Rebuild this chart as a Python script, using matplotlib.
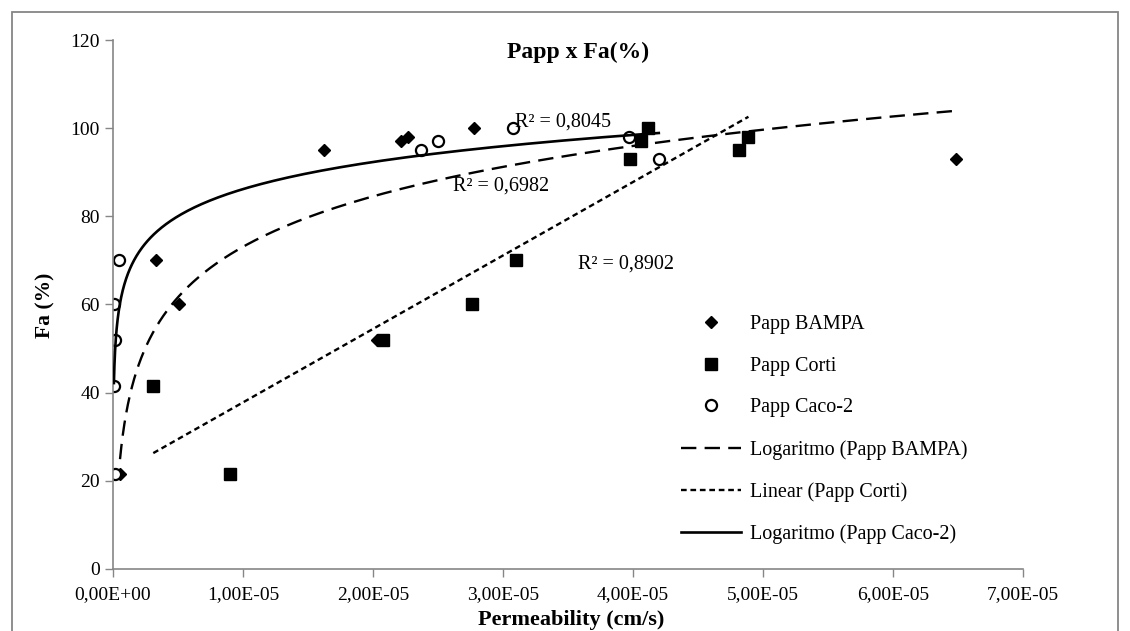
import numpy as np
import matplotlib
matplotlib.use("Agg")
import matplotlib.pyplot as plt
from matplotlib.patches import Rectangle
from matplotlib.ticker import FuncFormatter

# Papp (cm/s) vs Fa (%) for three permeability models
bampa_x = np.array([0.054, 0.31, 0.33, 0.51, 1.62, 2.03, 2.22, 2.27, 2.78, 6.49]) * 1e-5
bampa_y = np.array([21.5, 41.5, 70, 60, 95, 52, 97, 98, 100, 93])

corti_x = np.array([0.31, 0.90, 2.08, 2.76, 3.10, 3.98, 4.06, 4.12, 4.82, 4.89]) * 1e-5
corti_y = np.array([41.5, 21.5, 52, 60, 70, 93, 97, 100, 95, 98])

caco_x = np.array([0.018, 0.010, 0.015, 0.007, 0.049, 2.37, 2.50, 3.08, 3.97, 4.20]) * 1e-5
caco_y = np.array([21.5, 41.5, 52, 60, 70, 95, 97, 100, 98, 93])

series_labels = ["Papp BAMPA", "Papp Corti", "Papp Caco-2"]
trend_labels = ["Logaritmo (Papp BAMPA)", "Linear (Papp Corti)", "Logaritmo (Papp Caco-2)"]
r2_texts = ["R² = 0,6982", "R² = 0,8902", "R² = 0,8045"]

x_ticks = np.arange(0, 7.01e-5, 1e-5)
y_ticks = np.arange(0, 121, 20)

SERIF = "Liberation Serif"
GRAY = "#868686"


def main():
    plt.rcParams['font.family'] = [SERIF, 'DejaVu Serif']
    fig = plt.figure(figsize=(11.3, 6.31), dpi=100)
    ax = fig.add_axes([0.1, 0.0983, 0.805, 0.8383])

    # scatter series
    h_b, = ax.plot(bampa_x, bampa_y, 'D', color='black', ms=6, zorder=2)
    h_c, = ax.plot(corti_x, corti_y, 's', color='black', ms=8.5, zorder=2)
    h_k, = ax.plot(caco_x, caco_y, 'o', mfc='white', mec='black', mew=1.6, ms=8, zorder=2)

    # trendlines, fitted from the data
    a, b = np.polyfit(np.log(bampa_x), bampa_y, 1)
    xs = np.geomspace(bampa_x.min(), bampa_x.max(), 300)
    t_b, = ax.plot(xs, a * np.log(xs) + b, color='black', lw=1.7,
                   linestyle=(0, (6.5, 3.5)), zorder=3)

    m, c = np.polyfit(corti_x, corti_y, 1)
    xs = np.array([corti_x.min(), corti_x.max()])
    t_c, = ax.plot(xs, m * xs + c, color='black', lw=1.7,
                   linestyle=(0, (2.4, 1.6)), zorder=3)

    a, b = np.polyfit(np.log(caco_x), caco_y, 1)
    xs = np.geomspace(caco_x.min(), caco_x.max(), 300)
    t_k, = ax.plot(xs, a * np.log(xs) + b, color='black', lw=1.9, zorder=3)

    # R² labels
    ax.text(2.615e-5, 86.8, r2_texts[0], fontsize=14.5, va='center', ha='left')
    ax.text(3.58e-5, 69.2, r2_texts[1], fontsize=14.5, va='center', ha='left')
    ax.text(3.09e-5, 101.4, r2_texts[2], fontsize=14.5, va='center', ha='left')

    ax.set_xlim(0, 7e-5)
    ax.set_ylim(0, 120)
    ax.set_xticks(x_ticks)
    ax.set_yticks(y_ticks)
    ax.xaxis.set_major_formatter(FuncFormatter(lambda v, p: f"{v:.2E}".replace('.', ',')))
    ax.tick_params(direction='out', length=6, width=1, color=GRAY, labelsize=14)
    ax.tick_params(axis='x', pad=6)
    for s in ['top', 'right']:
        ax.spines[s].set_visible(False)
    for s in ['left', 'bottom']:
        ax.spines[s].set_color(GRAY)
        ax.spines[s].set_linewidth(1.2)

    handles = [h_b, h_c, h_k, t_b, t_c, t_k]
    fig.legend(handles, series_labels + trend_labels, loc='upper left',
               bbox_to_anchor=(0.6027, 0.5007), frameon=False, fontsize=14.5,
               handlelength=3.0, handletextpad=0.4, labelspacing=1.12,
               borderpad=0, borderaxespad=0)

    fig.text(578 / 1130, 1 - 52 / 631, "Papp x Fa(%)", fontsize=17,
             fontweight='bold', ha='center', va='center')
    fig.text(45 / 1130, 1 - 305 / 631, "Fa (%)", fontsize=15.5,
             fontweight='bold', rotation=90, ha='center', va='center')
    fig.text(571 / 1130, 1 - 620 / 631, "Permeability (cm/s)", fontsize=16,
             fontweight='bold', ha='center', va='center')

    # chart area border
    fig.patches.append(Rectangle((12 / 1130, -0.05), 1106 / 1130, 1.05 - 12 / 631,
                                 transform=fig.transFigure, fill=False,
                                 edgecolor=GRAY, lw=1.3))

    fig.savefig("out.png", dpi=100)


if __name__ == "__main__":
    main()
